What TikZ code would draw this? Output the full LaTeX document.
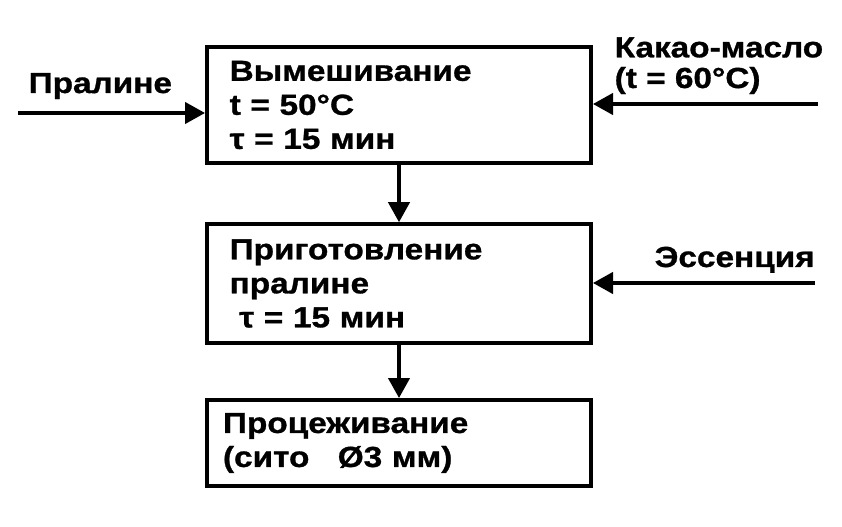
\documentclass[tikz,border=0pt]{standalone}
\usepackage{fontspec}
\setmainfont{Liberation Sans}[FakeStretch=1.15,BoldFeatures={FakeBold=1}]
\usetikzlibrary{arrows.meta}

\begin{document}
\begin{tikzpicture}[x=0.75pt,y=-0.75pt,>={Triangle[length=15pt,width=16pt]},
  every node/.style={font=\bfseries\fontsize{21.75pt}{25.5pt}\selectfont},
  stage/.style={draw,line width=3pt,minimum width=288pt,align=left,text width=254pt,inner xsep=17pt},
  flow/.style={->,line width=2.4pt}]
\useasboundingbox (0,0) rectangle (842,527);
% stages
\node[stage,minimum height=87pt] (mix) at (399,105) {Вымешивание\\t = 50°C\\τ = 15 мин};
\node[stage,minimum height=89pt] (prep) at (399,283.5) {Приготовление\\пралине\\\ τ = 15 мин};
\node[stage,minimum height=64.5pt,text width=264pt,inner xsep=12pt] (sieve) at (399,443) {Процеживание\\(сито\hspace{14pt} Ø3 мм)};
\draw[flow] (mix) -- (prep);
\draw[flow] (prep) -- (sieve);
% inputs
\coordinate (pin) at (18,113);
\coordinate (cin) at (818,104);
\coordinate (ein) at (815,283);
\node[anchor=base west] (lpin) at (24,93) {Пралине};
\node[anchor=base west,align=left,font=\bfseries\fontsize{21.75pt}{23pt}\selectfont] (lcin) at (610,88) {Какао-масло\\(t = 60°C)};
\node[anchor=base west] (lein) at (650,267) {Эссенция};
\draw[flow] (pin) -- (pin -| mix.west);
\draw[flow] (cin) -- (cin -| mix.east);
\draw[flow] (ein) -- (ein -| prep.east);
\end{tikzpicture}
\end{document}
